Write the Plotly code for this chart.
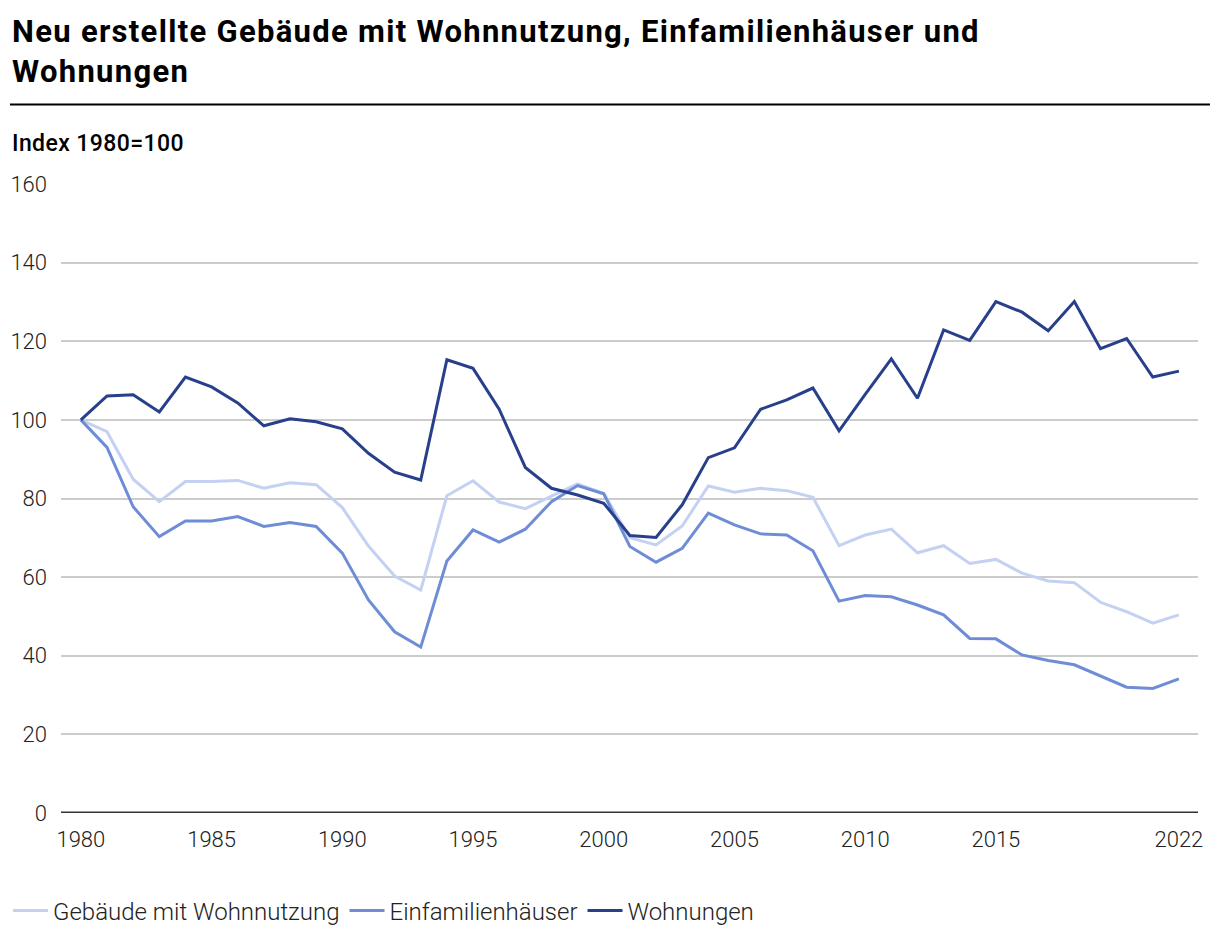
import plotly.graph_objects as go

years = list(range(1980, 2023))

gebaeude = [100, 97.0, 84.9, 79.2, 84.3, 84.3, 84.6, 82.6, 84.0, 83.5,
            77.7, 67.9, 60.3, 56.7, 80.7, 84.5, 79.1, 77.4, 80.6, 83.7,
            81.3, 70.0, 68.2, 73.0, 83.2, 81.6, 82.6, 82.0, 80.3, 68.0,
            70.7, 72.2, 66.2, 68.0, 63.5, 64.5, 61.0, 59.0, 58.6, 53.6,
            51.2, 48.3, 50.4]

efh = [100, 93.0, 77.9, 70.3, 74.3, 74.3, 75.4, 72.9, 73.9, 72.9,
       66.1, 54.2, 46.1, 42.2, 64.1, 72.0, 68.9, 72.2, 79.2, 83.3,
       81.2, 67.8, 63.8, 67.3, 76.3, 73.3, 71.0, 70.7, 66.7, 53.9,
       55.3, 55.0, 52.9, 50.4, 44.4, 44.3, 40.2, 38.8, 37.7, 34.9,
       32.0, 31.7, 34.1]

wohnungen = [100, 106.1, 106.4, 102.0, 110.9, 108.4, 104.3, 98.5, 100.3, 99.5,
             97.7, 91.5, 86.7, 84.7, 115.3, 113.1, 102.7, 87.9, 82.6, 80.9,
             78.8, 70.6, 70.1, 78.4, 90.4, 92.9, 102.7, 105.1, 108.1, 97.2,
             106.5, 115.5, 105.5, 122.9, 120.2, 130.1, 127.4, 122.7, 130.1, 118.1,
             120.7, 110.9, 112.4]

series_names = ["Gebäude mit Wohnnutzung", "Einfamilienhäuser", "Wohnungen"]
series_colors = ["#c5d1f3", "#6e8dd6", "#283f8b"]

x_tickvals = [1980, 1985, 1990, 1995, 2000, 2005, 2010, 2015, 2022]
y_tickvals = [0, 20, 40, 60, 80, 100, 120, 140, 160]

title_lines = ["Neu erstellte Gebäude mit Wohnnutzung, Einfamilienhäuser und", "Wohnungen"]
subtitle = "Index 1980=100"

FONT = "Roboto"
W, H = 1220, 945
OFF = 8  # page body margin offset of the plot div
# plot area in page pixels: left 61, right 1198, top 184, bottom 813
L = 61 - OFF
R = W - (1198 - OFF)
T = 184 - OFF
B = H - (813 - OFF)
pw, ph = W - L - R, H - T - B


def px_x(px):
    return (px - OFF - L) / pw


def px_y(py):
    return (H - B - (py - OFF)) / ph


fig = go.Figure()
for name, vals, col in zip(series_names, [gebaeude, efh, wohnungen], series_colors):
    fig.add_trace(go.Scatter(x=years, y=vals, mode="lines", name=name,
                             line=dict(color=col, width=3)))

annotations = []
for text, ymid in zip(title_lines, [31.0, 71.5]):
    annotations.append(dict(
        text='<span style="letter-spacing:1.3px">%s</span>' % text,
        x=px_x(10), xref="paper", xanchor="left",
        y=px_y(ymid), yref="paper", yanchor="middle", showarrow=False,
        font=dict(family=FONT, size=31, color="#000000", weight="bold")))
annotations.append(dict(
    text='<span style="letter-spacing:0.4px">%s</span>' % subtitle,
    x=px_x(10), xref="paper", xanchor="left",
    y=px_y(143.5), yref="paper", yanchor="middle", showarrow=False,
    font=dict(family=FONT, size=23, color="#000000", weight=500)))

fig.update_layout(
    width=W, height=H,
    margin=dict(l=L, r=R, t=T, b=B, autoexpand=False),
    paper_bgcolor="white", plot_bgcolor="white",
    font=dict(family=FONT, color="#222222"),
    xaxis=dict(
        range=[1979.24, 2022.73],
        tickvals=x_tickvals,
        showgrid=False, zeroline=False,
        showline=False,
        ticks="", ticklabelstandoff=11,
        tickfont=dict(family=FONT, size=22, color="#222222", weight=300),
        fixedrange=True,
    ),
    yaxis=dict(
        range=[0, 160],
        tickvals=y_tickvals,
        showgrid=True, gridcolor="#cccccc", gridwidth=2,
        zeroline=False, showline=False,
        ticks="", ticklabelstandoff=13,
        tickfont=dict(family=FONT, size=22, color="#222222", weight=300),
        fixedrange=True,
    ),
    showlegend=True,
    legend=dict(
        orientation="h", x=-10 / W, xref="container", xanchor="left",
        y=1 - (911 - OFF) / H, yref="container", yanchor="middle",
        font=dict(family=FONT, size=24, color="#222222", weight=300),
        itemwidth=35, tracegroupgap=0,
    ),
    annotations=annotations,
    shapes=[
        dict(type="line", xref="paper", yref="paper",
             x0=px_x(10), x1=px_x(1210),
             y0=px_y(104.5), y1=px_y(104.5),
             line=dict(color="#000000", width=2)),
        dict(type="line", xref="paper", yref="y",
             x0=0, x1=1, y0=0, y1=0,
             line=dict(color="#333333", width=3)),
    ],
)

fig.write_html("out.html")
